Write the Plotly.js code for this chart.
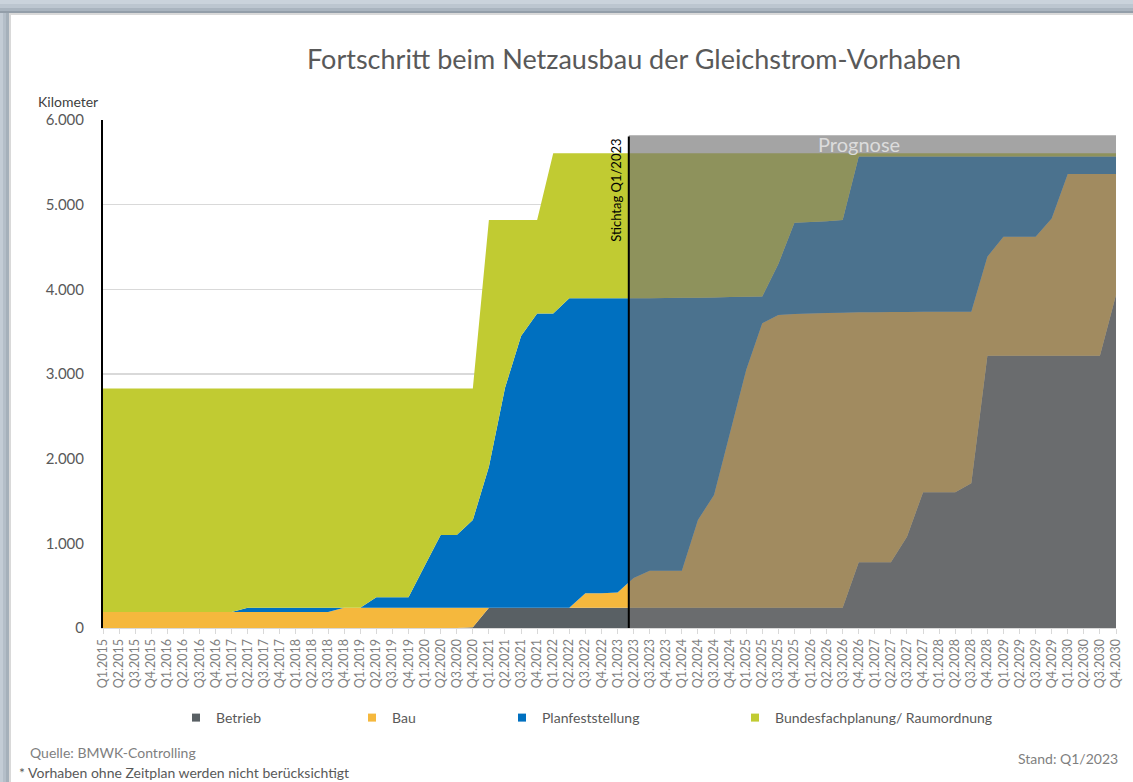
<!DOCTYPE html>
<html>
<head>
<meta charset="utf-8">
<script src="https://cdn.plot.ly/plotly-3.0.1.min.js"></script>
<style>html,body{margin:0;padding:0;background:#fff;}#chart{width:1133px;height:782px;}</style>
</head>
<body>
<div id="chart"></div>
<script>
// ---- Data ----
const quarters = [
 'Q1.2015','Q2.2015','Q3.2015','Q4.2015','Q1.2016','Q2.2016','Q3.2016','Q4.2016',
 'Q1.2017','Q2.2017','Q3.2017','Q4.2017','Q1.2018','Q2.2018','Q3.2018','Q4.2018',
 'Q1.2019','Q2.2019','Q3.2019','Q4.2019','Q1.2020','Q2.2020','Q3.2020','Q4.2020',
 'Q1.2021','Q2.2021','Q3.2021','Q4.2021','Q1.2022','Q2.2022','Q3.2022','Q4.2022',
 'Q1.2023','Q2.2023','Q3.2023','Q4.2023','Q1.2024','Q2.2024','Q3.2024','Q4.2024',
 'Q1.2025','Q2.2025','Q3.2025','Q4.2025','Q1.2026','Q2.2026','Q3.2026','Q4.2026',
 'Q1.2027','Q2.2027','Q3.2027','Q4.2027','Q1.2028','Q2.2028','Q3.2028','Q4.2028',
 'Q1.2029','Q2.2029','Q3.2029','Q4.2029','Q1.2030','Q2.2030','Q3.2030','Q4.2030'
];
const betrieb = [
 0,0,0,0,0,0,0,0, 0,0,0,0,0,0,0,0, 0,0,0,0,0,0,0,10,
 240,240,240,240,240,240,240,240, 240,240,240,240,240,240,240,240,
 240,240,240,240,240,240,240,776, 776,776,1078,1603,1603,1603,1709,3216,
 3216,3216,3216,3216,3216,3216,3216,3933
];
const bau = [
 190,190,190,190,190,190,190,190, 190,190,190,190,190,190,190,240,
 240,240,240,240,240,240,240,230, 0,0,0,0,0,0,170,170,
 180,350,437,437,437,1036,1331,2070, 2807,3359,3457,3470,3475,3480,3484,2952,
 2954,2956,2655,2131,2132,2132,2027,1170, 1406,1406,1406,1622,2146,2146,2146,1429
];
const planfeststellung = [
 0,0,0,0,0,0,0,0, 0,50,50,50,50,50,50,0,
 0,122,122,122,492,858,858,1036, 1665,2595,3209,3476,3476,3654,3484,3484,
 3474,3305,3219,3221,3223,2626,2334,1598, 864,315,603,1076,1079,1085,1095,1840,
 1838,1836,1835,1834,1833,1833,1832,1182, 946,946,946,730,206,206,206,206
];
const bundesfachplanung = [
 2640,2640,2640,2640,2640,2640,2640,2640, 2640,2590,2590,2590,2590,2590,2590,2590,
 2590,2468,2468,2468,2098,1732,1732,1554, 2914,1984,1370,1103,1890,1712,1712,1712,
 1712,1711,1710,1708,1706,1704,1701,1698, 1695,1692,1306,820,812,801,787,38,
 38,38,38,38,38,38,38,38, 38,38,38,38,38,38,38,38
];
const seriesNames = ['Betrieb','Bau','Planfeststellung','Bundesfachplanung/ Raumordnung'];
const seriesColors = ['#596064','#f5b83d','#0070c0','#c1cb32'];
const yTicks = [0,1000,2000,3000,4000,5000,6000];
const stichtagLabel = 'Q1.2023';
const prognoseTop = 5820;

// ---- Geometry helpers ----
const W = 1133, H = 782, mL = 103, mR = 17, mT = 120, mB = 154;
const pw = W - mL - mR, ph = H - mT - mB;
const px = x => (x - mL) / pw;
const py = y => (H - mB - y) / ph;

const FONT = 'Lato, "Open Sans", sans-serif';
const seriesData = [betrieb, bau, planfeststellung, bundesfachplanung];
const traces = seriesData.map((vals, i) => ({
  type: 'scatter', x: quarters, y: vals, stackgroup: 'one', mode: 'none',
  fillcolor: seriesColors[i], name: seriesNames[i], showlegend: false, hoverinfo: 'skip'
}));
const legendIds = ['legend','legend2','legend3','legend4'];
seriesNames.forEach((n, i) => traces.push({
  type: 'scatter', x: [quarters[0]], y: [null], mode: 'markers', name: n, legend: legendIds[i],
  marker: {symbol: 'square', size: 8, color: seriesColors[i]}, showlegend: true, hoverinfo: 'skip'
}));

const stichIdx = quarters.indexOf(stichtagLabel) + 0.7;
const textStarts = [216, 392, 542, 775];
const legendCfg = {};
legendIds.forEach((id, i) => {
  legendCfg[id] = {orientation: 'h', x: px(textStarts[i] - 40), xanchor: 'left',
    y: py(718), yanchor: 'middle', bgcolor: 'rgba(0,0,0,0)', itemwidth: 30,
    font: {family: FONT, size: 14, color: '#595959'}};
});

function rectPx(x0, y0, x1, y1, color) {
  return {type: 'rect', xref: 'paper', yref: 'paper', x0: px(x0), x1: px(x1),
    y0: py(y0), y1: py(y1), fillcolor: color, line: {width: 0}, layer: 'above'};
}

const shapes = [
  {type: 'rect', xref: 'x', yref: 'y', x0: stichIdx, x1: quarters.length - 1, y0: 0, y1: prognoseTop,
   fillcolor: 'rgba(115,115,115,0.65)', line: {width: 0}, layer: 'above'},
  {type: 'line', xref: 'x', yref: 'y', x0: stichIdx, x1: stichIdx, y0: 0, y1: prognoseTop - 15,
   line: {color: '#000000', width: 2}, layer: 'above'},
  // frame of the slide
  rectPx(0, 0, W, 4, '#cad3dc'),
  rectPx(0, 4, W, 8, '#bcc6d0'),
  rectPx(0, 8, W, 11, '#a9b4bf'),
  rectPx(0, 11, W, 13, '#939ea9'),
  rectPx(0, 13, W, 15, '#d9d9d9'),
  rectPx(0, 13, 3, H, '#c3ccd5'),
  rectPx(3, 13, 6, H, '#b4bec8'),
  rectPx(6, 13, 9, H, '#a5b0ba'),
  rectPx(9, 15, 11, H, '#d9d9d9')
];

const annotations = [
  {xref: 'paper', yref: 'paper', x: px(100), y: py(101), xanchor: 'right', yanchor: 'middle',
   text: 'Kilometer', showarrow: false, font: {family: FONT, size: 14, color: '#404040'}},
  {xref: 'x', yref: 'y', x: 47, y: 5712, text: 'Prognose', showarrow: false,
   xanchor: 'center', yanchor: 'middle', font: {family: FONT, size: 20, color: '#dcdcdc'}},
  {xref: 'x', yref: 'y', x: stichIdx, y: prognoseTop - 15, xshift: -3, text: 'Stichtag Q1/2023',
   textangle: -90, showarrow: false, xanchor: 'right', yanchor: 'top',
   font: {family: FONT, size: 13, color: '#000000'}},
  {xref: 'paper', yref: 'paper', x: px(28), y: py(752), xanchor: 'left', yanchor: 'middle',
   text: 'Quelle: BMWK-Controlling', showarrow: false, font: {family: FONT, size: 14, color: '#7f7f7f'}},
  {xref: 'paper', yref: 'paper', x: px(17), y: py(772), xanchor: 'left', yanchor: 'middle',
   text: '* Vorhaben ohne Zeitplan werden nicht berücksichtigt', showarrow: false,
   font: {family: FONT, size: 14, color: '#595959'}},
  {xref: 'paper', yref: 'paper', x: px(1120), y: py(758), xanchor: 'right', yanchor: 'middle',
   text: 'Stand: Q1/2023', showarrow: false, font: {family: FONT, size: 14, color: '#7f7f7f'}}
];

const layout = Object.assign({
  width: W, height: H, showlegend: true,
  margin: {l: mL, r: mR, t: mT, b: mB, pad: 0},
  paper_bgcolor: '#ffffff', plot_bgcolor: '#ffffff',
  separators: ',.',
  title: {text: 'Fortschritt beim Netzausbau der Gleichstrom-Vorhaben', xref: 'paper', x: px(634),
    xanchor: 'center', yref: 'container', y: 1 - 60 / H, yanchor: 'middle',
    font: {family: FONT, size: 27, color: '#595959'}},
  xaxis: {type: 'category', range: [0, quarters.length - 1], tickangle: -90,
    tickfont: {family: FONT, size: 12.5, color: '#7f7f7f'},
    showline: true, linecolor: '#d9d9d9', linewidth: 1, ticks: 'outside', ticklen: 5,
    tickcolor: '#d9d9d9', showgrid: false, zeroline: false, fixedrange: true},
  yaxis: {range: [0, 6000], tickvals: yTicks, tickformat: ',d',
    tickfont: {family: FONT, size: 15, color: '#595959'},
    showline: true, linecolor: '#000000', linewidth: 2, gridcolor: '#d9d9d9', gridwidth: 1.5,
    zeroline: false, ticks: '', ticklabelstandoff: 14, fixedrange: true},
  shapes: shapes, annotations: annotations, hovermode: false
}, legendCfg);

Plotly.newPlot('chart', traces, layout, {staticPlot: true, displayModeBar: false});
</script>
</body>
</html>
